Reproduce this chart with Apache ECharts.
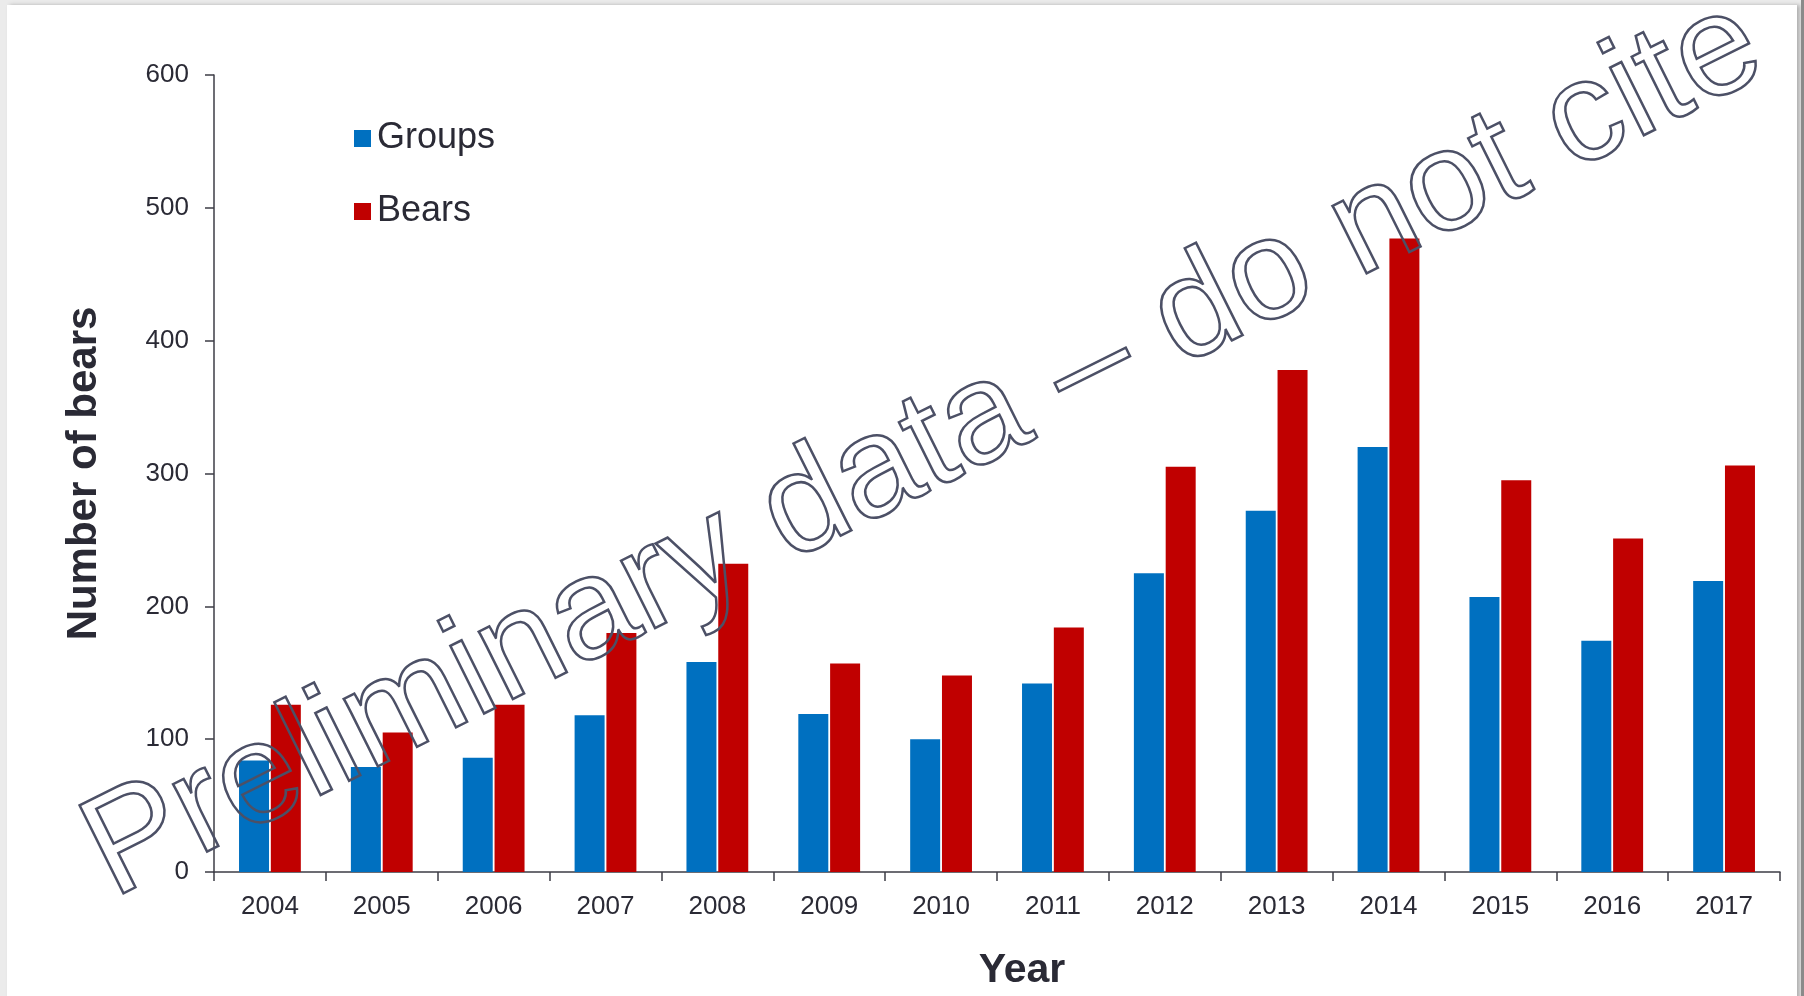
<!DOCTYPE html>
<html>
<head>
<meta charset="utf-8">
<script src="https://cdn.jsdelivr.net/npm/echarts@6.0.0/dist/echarts.min.js"></script>
<style>
  html, body { margin: 0; padding: 0; width: 1804px; height: 996px; overflow: hidden; background: #ebebeb; }
  #card { position: absolute; left: 7px; top: 5px; width: 1790px; height: 1000px; background: #fff;
          box-shadow: 3px 0 4px rgba(0,0,0,0.25); }
  #edge { position: absolute; left: 1801px; top: 0; width: 3px; height: 996px; background: #8a8a8a; }
  #main { position: absolute; left: 0; top: 0; width: 1804px; height: 996px; }
</style>
</head>
<body>
<div id="card"></div>
<div id="edge"></div>
<div id="main"></div>
<script>
// data
const years = ['2004', '2005', '2006', '2007', '2008', '2009', '2010', '2011', '2012', '2013', '2014', '2015', '2016', '2017'];
const groups = [84, 79, 86, 118, 158, 119, 100, 142, 225, 272, 320, 207, 174, 219];
const bears = [126, 105, 126, 180, 232, 157, 148, 184, 305, 378, 477, 295, 251, 306];
const yTicks = [0, 100, 200, 300, 400, 500, 600];

const textColor = '#2a2a35';
const axisColor = '#3c3c46';
const font = 'Liberation Sans, Arial, sans-serif';

const chart = echarts.init(document.getElementById('main'));

const option = {
  animation: false,
  textStyle: {fontFamily: font},
  grid: {left: 214, right: 24, top: 75, bottom: 123},
  legend: {
    orient: 'vertical',
    left: 349,
    top: 115,
    itemWidth: 17,
    itemHeight: 17,
    itemGap: 36,
    icon: 'rect',
    textStyle: {fontSize: 36, color: textColor, lineHeight: 37, padding: [0, 0, 0, 1], fontFamily: font},
    data: ['Groups', 'Bears']
  },
  xAxis: {
    type: 'category',
    data: years,
    name: 'Year',
    nameLocation: 'middle',
    nameGap: 78,
    nameTextStyle: {fontSize: 41, fontWeight: 'bold', color: textColor, padding: [0, 0, 0, 50], fontFamily: font},
    axisLine: {lineStyle: {color: axisColor, width: 1.5}},
    axisTick: {show: true, length: 9, interval: 0, lineStyle: {color: axisColor, width: 1.5}},
    axisLabel: {fontSize: 26, color: textColor, margin: 22, interval: 0, fontFamily: font}
  },
  yAxis: {
    type: 'value',
    min: yTicks[0],
    max: yTicks[yTicks.length - 1],
    interval: 100,
    name: 'Number of bears',
    nameLocation: 'middle',
    nameGap: 109,
    nameTextStyle: {fontSize: 42, fontWeight: 'bold', color: textColor, fontFamily: font},
    splitLine: {show: false},
    axisLine: {show: true, lineStyle: {color: axisColor, width: 1.5}},
    axisTick: {show: true, length: 9, lineStyle: {color: axisColor, width: 1.5}},
    axisLabel: {fontSize: 26, color: textColor, margin: 25, fontFamily: font}
  },
  series: [
    {
      name: 'Groups',
      type: 'bar',
      data: groups,
      barWidth: 30,
      barGap: '6%',
      itemStyle: {color: '#0070c0'}
    },
    {
      name: 'Bears',
      type: 'bar',
      data: bears,
      barWidth: 30,
      barGap: '6%',
      itemStyle: {color: '#c00000'}
    }
  ],
  graphic: [
    {
      type: 'text',
      x: 924,
      y: 450,
      rotation: 26.5 * Math.PI / 180,
      z: 100,
      style: {
        text: 'Preliminary data – do not cite',
        font: '143px "Liberation Sans", Arial, sans-serif',
        align: 'center',
        verticalAlign: 'middle',
        fill: 'rgba(255,255,255,0)',
        stroke: '#4c5066',
        lineWidth: 2.5,
        shadowBlur: 7,
        shadowColor: 'rgba(0,0,0,0.4)',
        shadowOffsetX: 3,
        shadowOffsetY: 4
      }
    }
  ]
};

chart.setOption(option);
</script>
</body>
</html>
